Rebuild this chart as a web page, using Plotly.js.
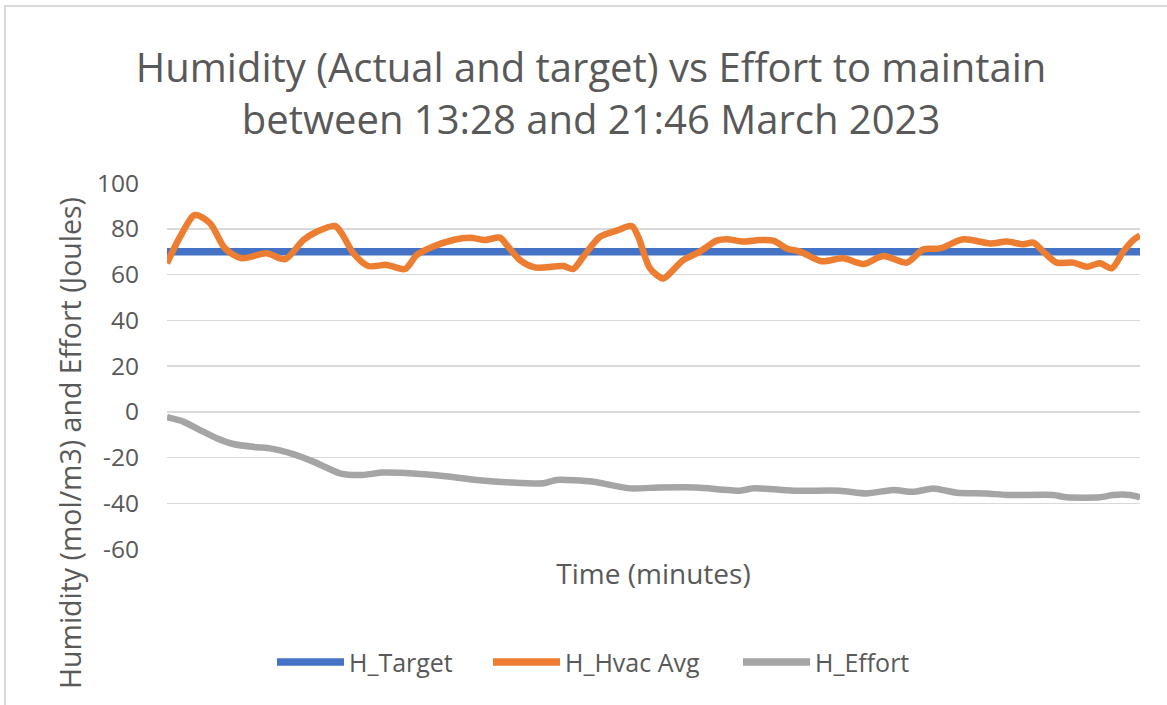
<!DOCTYPE html>
<html>
<head>
<meta charset="utf-8">
<script src="https://cdn.plot.ly/plotly-3.0.1.min.js"></script>
<style>
  html, body { margin: 0; padding: 0; background: #fff; }
  #chart { position: absolute; left: 0; top: 0; width: 1167px; height: 705px; }
  #frame { position: absolute; left: 4px; top: 5px; width: 1180px; height: 720px; border: 2px solid #d9d9d9; pointer-events: none; z-index: 5; }
</style>
</head>
<body>
<div id="chart"></div>
<div id="frame"></div>
<script>
// Time in minutes from 13:28
const targetTime = [0, 498];
const targetValues = [70, 70];

const hvacTime = [0, 6.7, 14.3, 22.0, 29.7, 38.2, 51.0, 60.4, 69.8, 76.6, 86.0, 89.4, 95.4, 103.0, 112.4, 121.8, 127.8, 136.3, 146.5, 155.1, 162.8, 170.4, 173.9, 180.7, 188.3, 202.8, 207.9, 213.1, 221.6, 230.2, 237.8, 241.2, 247.2, 254.0, 259.1, 264.2, 272.8, 281.3, 286.5, 295.0, 303.5, 310.3, 317.2, 324.0, 335.0, 346.1, 356.4, 366.6, 378.6, 387.1, 395.6, 407.6, 421.2, 429.8, 438.3, 443.4, 448.5, 455.4, 463.8, 470.7, 477.5, 483.5, 489.4, 494.6, 498];
const hvacValues = [64.9, 76.5, 86.0, 82.4, 71.4, 67.1, 69.3, 66.7, 75.1, 78.7, 81.2, 78.0, 69.3, 63.7, 64.2, 62.4, 68.5, 72.2, 75.1, 76.1, 75.1, 76.1, 72.9, 66.3, 63.1, 63.7, 62.4, 67.8, 76.5, 79.2, 81.2, 76.5, 62.7, 58.3, 62.0, 66.3, 70.0, 74.8, 75.4, 74.4, 75.1, 74.8, 71.4, 70.0, 65.8, 67.1, 64.6, 68.1, 65.2, 71.0, 71.4, 75.4, 73.6, 74.4, 73.2, 73.9, 70.0, 65.2, 65.2, 63.4, 64.9, 62.7, 70.0, 75.1, 77.0];

const effortTime = [0, 8.3, 16.9, 25.4, 33.9, 45.9, 52.7, 64.6, 74.9, 88.5, 98.8, 110.7, 129.5, 141.4, 158.5, 175.6, 192.6, 199.4, 218.2, 237.0, 252.3, 271.1, 293.2, 300.1, 322.3, 344.4, 358.1, 371.7, 381.9, 392.2, 404.2, 419.5, 429.8, 453.6, 460.5, 477.5, 484.3, 492.9, 498];
const effortValues = [-2.4, -4.3, -8.0, -11.6, -14.1, -15.5, -16.0, -18.5, -21.8, -26.9, -27.7, -26.6, -27.2, -28.1, -29.8, -30.9, -31.3, -29.8, -30.6, -33.5, -33.1, -33.1, -34.5, -33.5, -34.5, -34.5, -35.7, -34.2, -35.0, -33.5, -35.4, -35.7, -36.4, -36.4, -37.4, -37.4, -36.4, -36.4, -37.4];

const yTicks = [-60, -40, -20, 0, 20, 40, 60, 80, 100];
const seriesNames = ['H_Target', 'H_Hvac Avg', 'H_Effort'];
const seriesColors = ['#4472C4', '#ED7D31', '#A5A5A5'];

const textColor = '#595959';
const FONT = '"Open Sans", "Noto Sans", sans-serif';

const traces = [
  { x: targetTime, y: targetValues, name: seriesNames[0], mode: 'lines',
    line: { color: seriesColors[0], width: 7.5 } },
  { x: hvacTime, y: hvacValues, name: seriesNames[1], mode: 'lines',
    line: { color: seriesColors[1], width: 6.5, shape: 'spline', smoothing: 0.8 } },
  { x: effortTime, y: effortValues, name: seriesNames[2], mode: 'lines',
    line: { color: seriesColors[2], width: 6.5, shape: 'spline', smoothing: 0.6 } }
];

// Custom legend (Excel-style long line samples), placed in paper coords
const PL = 167, PW = 973, PB = 549, PH = 366;
const px2x = p => (p - PL) / PW;
const py2y = p => (PB - p) / PH;
const legLines = [[277, 344], [493, 560], [743, 810]];
const legY = 662;
const shapes = legLines.map((l, i) => ({
  type: 'line', xref: 'paper', yref: 'paper',
  x0: px2x(l[0]), x1: px2x(l[1]), y0: py2y(legY), y1: py2y(legY),
  line: { color: seriesColors[i], width: 7.5 }
}));
const annotations = legLines.map((l, i) => ({
  xref: 'paper', yref: 'paper', x: px2x(l[1] + 3), y: py2y(legY),
  xanchor: 'left', yanchor: 'middle', showarrow: false,
  text: seriesNames[i], font: { family: FONT, size: 25, color: textColor }
}));
annotations.push({
  xref: 'paper', yref: 'paper', x: px2x(70), y: py2y(443),
  xanchor: 'center', yanchor: 'middle', showarrow: false, textangle: -90,
  text: 'Humidity (mol/m3) and Effort (Joules)',
  font: { family: FONT, size: 28.5, color: textColor }
});

const layout = {
  width: 1167, height: 705,
  paper_bgcolor: '#ffffff', plot_bgcolor: '#ffffff',
  margin: { l: 167, r: 27, t: 183, b: 156 },
  font: { family: FONT, color: textColor },
  title: {
    text: 'Humidity (Actual and target) vs Effort to maintain<br>between 13:28 and 21:46 March 2023',
    font: { family: FONT, size: 40, color: textColor },
    x: 0.5065, xref: 'container', xanchor: 'center',
    y: 0.884, yref: 'container', yanchor: 'middle'
  },
  xaxis: {
    range: [0, 498], showticklabels: false, showgrid: false, zeroline: false,
    showline: false, ticks: '',
    title: { text: 'Time (minutes)', font: { family: FONT, size: 28, color: textColor }, standoff: 15 }
  },
  yaxis: {
    range: [-60, 100], tickvals: yTicks, ticktext: yTicks.map(String),
    showgrid: true, gridcolor: '#d9d9d9', gridwidth: 1.5,
    zeroline: false, showline: false, ticks: '',
    ticklabelstandoff: 27,
    tickfont: { family: FONT, size: 24.5, color: textColor }
  },
  showlegend: false,
  shapes: shapes,
  annotations: annotations
};

Plotly.newPlot('chart', traces, layout, { displayModeBar: false, staticPlot: true });
</script>
</body>
</html>
